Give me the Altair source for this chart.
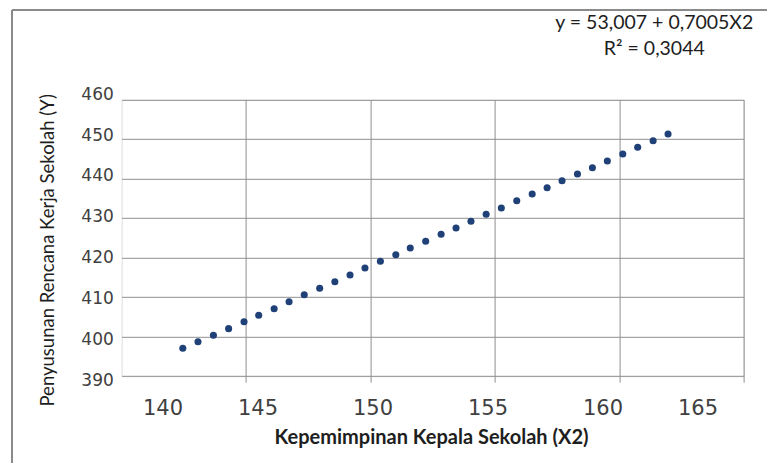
import altair as alt
import pandas as pd

# Data
X2 = [142.46, 143.07, 143.69, 144.30, 144.92, 145.51, 146.13, 146.73, 147.34, 147.96,
      148.57, 149.18, 149.78, 150.40, 151.02, 151.60, 152.22, 152.84, 153.44, 154.04,
      154.65, 155.26, 155.88, 156.50, 157.10, 157.70, 158.32, 158.92, 159.52, 160.14,
      160.74, 161.36, 161.96]
Y = [397.07, 398.74, 400.36, 402.04, 403.81, 405.43, 407.10, 408.87, 410.65, 412.27,
     413.94, 415.63, 417.41, 419.10, 420.77, 422.47, 424.17, 425.94, 427.54, 429.23,
     431.01, 432.60, 434.45, 436.15, 437.74, 439.51, 441.21, 442.81, 444.50, 446.27,
     447.97, 449.64, 451.34]
X_LABELS = [140, 145, 150, 155, 160, 165]
X_GRID = [145, 150, 155, 160, 165]
Y_LABELS = [390, 400, 410, 420, 430, 440, 450, 460]
EQ_LINE1 = "y = 53,007 + 0,7005X2"
EQ_LINE2 = "R² = 0,3044"
X_TITLE = "Kepemimpinan Kepala Sekolah (X2)"
Y_TITLE = "Penyusunan Rencana Kerja Sekolah (Y)"

df = pd.DataFrame({"x": X2, "y": Y})

W, H = 622.1, 276.4
GRID = "#8f8f8f"
LABEL_COLOR = "#404040"
TITLE_FONT = "Lato"
FRAME = "#8a8a8a"

one = pd.DataFrame({"k": [0]})
frame_left = alt.Chart(one).mark_rule(stroke=FRAME, strokeWidth=2).encode(
    x=alt.value(-109.6), y=alt.value(-89.8), y2=alt.value(500)
)
frame_top = alt.Chart(one).mark_rule(stroke=FRAME, strokeWidth=2).encode(
    x=alt.value(-109.6), x2=alt.value(800), y=alt.value(-89.8)
)

points = alt.Chart(df).mark_circle(size=50, color="#1F4177", opacity=1).encode(
    x=alt.X("x:Q", scale=alt.Scale(domain=[140, 165], nice=False, zero=False),
            axis=alt.Axis(values=X_GRID, labels=False, title=None, domain=False,
                          ticks=True, tickSize=6, tickColor=GRID, grid=True,
                          gridColor=GRID, gridWidth=1, orient="bottom")),
    y=alt.Y("y:Q", scale=alt.Scale(domain=[390, 460], nice=False, zero=False),
            axis=alt.Axis(values=Y_LABELS, labels=False, title=None, domain=False,
                          ticks=False, grid=True, gridColor=GRID, gridWidth=1,
                          orient="left")),
)

labels = alt.Chart(df).mark_point(opacity=0).encode(
    x=alt.X("x:Q", scale=alt.Scale(domain=[140, 165], range=[20.9, 595.9], nice=False, zero=False),
            axis=alt.Axis(values=X_LABELS, orient="bottom", grid=False, ticks=False,
                          domain=False, labelPadding=21, labelFont="DejaVu Sans",
                          labelFontSize=21, labelColor=LABEL_COLOR,
                          title=X_TITLE, titleFont=TITLE_FONT, titleFontSize=20,
                          titleFontWeight="bold", titleColor="#1e1e1e",
                          titleBaseline="alphabetic", titleY=67.5, titleX=309.4,
                          titleAlign="center")),
    y=alt.Y("y:Q", scale=alt.Scale(domain=[390, 460], range=[280.2, -5.5], nice=False, zero=False),
            axis=alt.Axis(values=Y_LABELS, orient="left", grid=False, ticks=False,
                          domain=False, labelPadding=8.3, labelFont="DejaVu Sans",
                          labelFontSize=17, labelColor=LABEL_COLOR,
                          title=Y_TITLE, titleFont=TITLE_FONT, titleFontSize=18.5,
                          titleFontWeight="normal", titleColor="#1e1e1e",
                          titleAngle=270, titleBaseline="alphabetic",
                          titleX=-68.6, titleY=150, titleAlign="center")),
)

eq1 = alt.Chart(pd.DataFrame({"t": [EQ_LINE1]})).mark_text(
    font=TITLE_FONT, fontSize=19.5, color="#1e1e1e", align="center", baseline="alphabetic"
).encode(text="t:N", x=alt.value(532.7), y=alt.value(-70.5))

eq2 = alt.Chart(pd.DataFrame({"t": [EQ_LINE2]})).mark_text(
    font=TITLE_FONT, fontSize=19.5, color="#1e1e1e", align="center", baseline="alphabetic"
).encode(text="t:N", x=alt.value(532.7), y=alt.value(-44.8))

chart = alt.layer(frame_left, frame_top, points, labels, eq1, eq2).resolve_scale(
    x="independent", y="independent"
).properties(
    width=W, height=H,
    autosize=alt.AutoSizeParams(type="none"),
    padding={"left": 113.6, "top": 91.8, "right": 23.3, "bottom": 86.8},
).configure_view(stroke=None).configure(background="white")

chart.save("out.html", embed_options={"renderer": "svg", "actions": False})
